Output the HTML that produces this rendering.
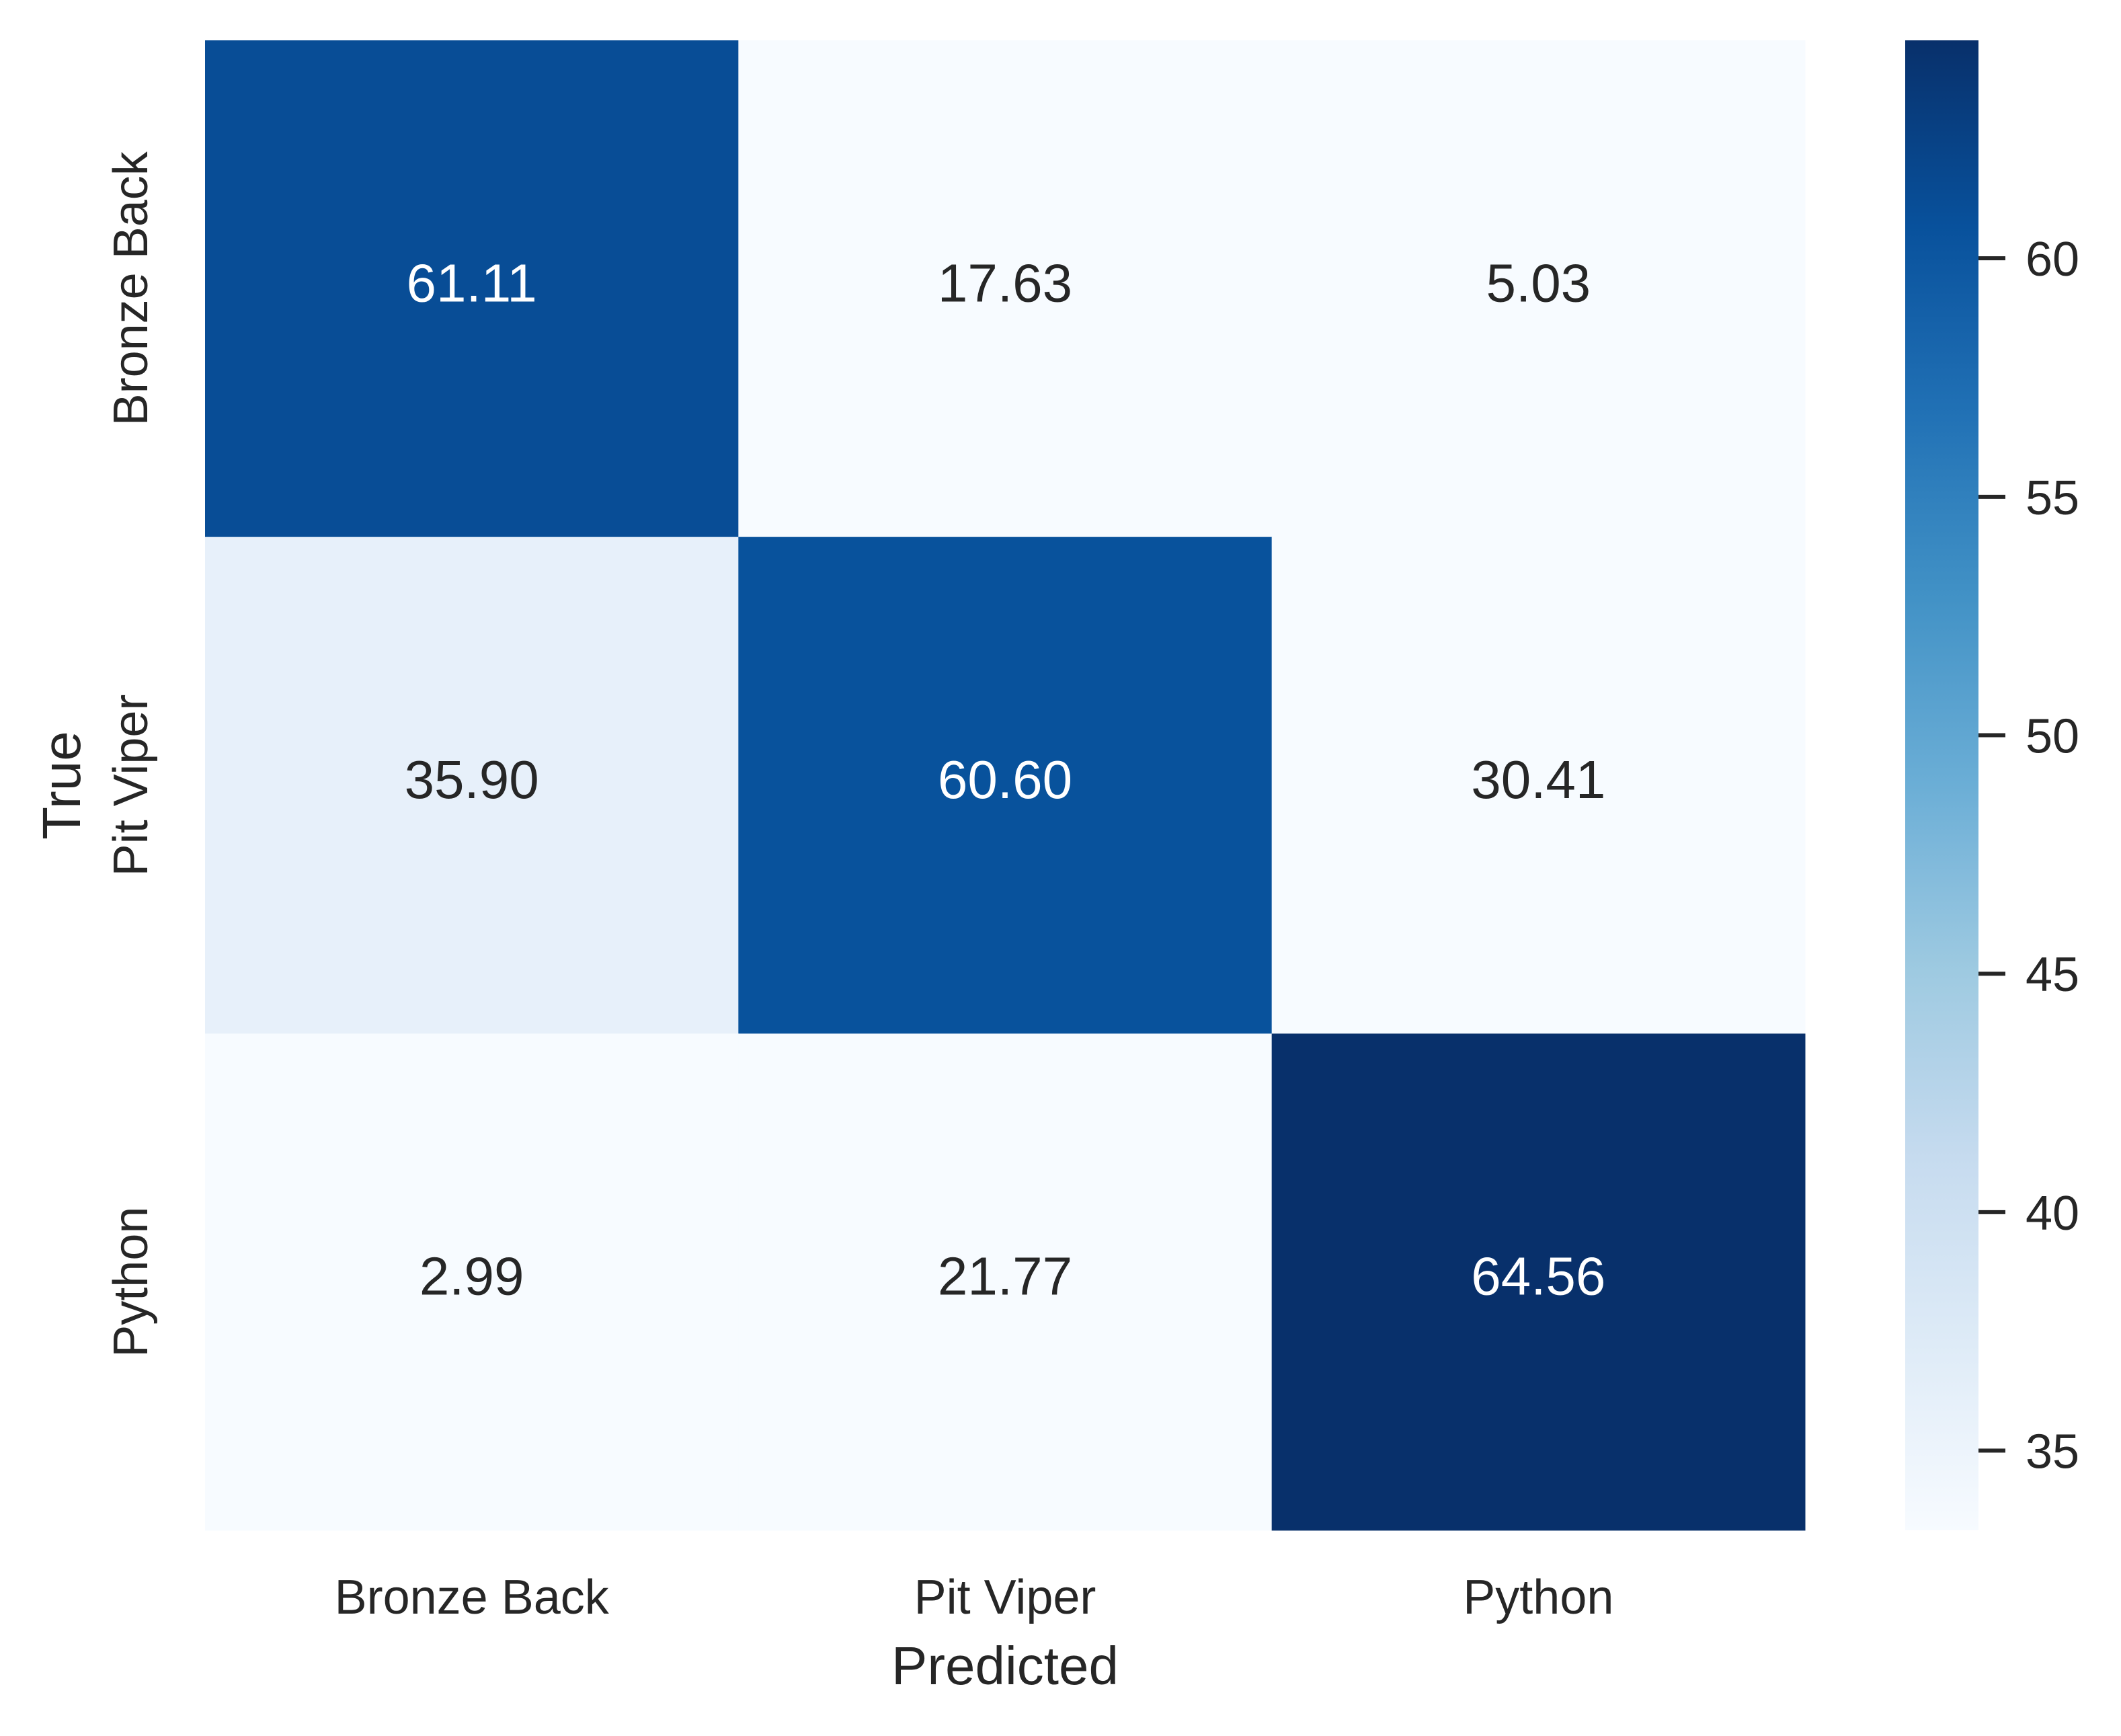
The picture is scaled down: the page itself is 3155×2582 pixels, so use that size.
<!DOCTYPE html>
<html><head><meta charset="utf-8"><style>
html,body{margin:0;padding:0;background:#fff;}
svg{display:block;font-family:"Liberation Sans",Arial,sans-serif;}
</style></head><body>
<svg id="chart" width="3155" height="2582" viewBox="0 0 3155 2582" xmlns="http://www.w3.org/2000/svg">
<defs><linearGradient id="cbgrad" x1="0" y1="1" x2="0" y2="0"></linearGradient></defs>
<g id="cells"></g>
<g id="xt"></g>
<g id="yt"></g>
<text x="1495" y="2505" font-size="80" text-anchor="middle" fill="#262626">Predicted</text>
<text transform="translate(119,1168) rotate(-90)" font-size="80" text-anchor="middle" fill="#262626">True</text>
<rect x="2834" y="60" width="109" height="2216" fill="url(#cbgrad)"/>
<g id="cbt"></g>
</svg>
<script>
const categories = ["Bronze Back","Pit Viper","Python"];
const rowBronzeBack = [61.11,17.63,5.03];
const rowPitViper = [35.90,60.60,30.41];
const rowPython = [2.99,21.77,64.56];
const cbTicks = [35,40,45,50,55,60];
const vmin = 33.33, vmax = 64.57;

const matrix = [rowBronzeBack,rowPitViper,rowPython];
const L=305,R=2685,T=60,B=2276;
const cw=(R-L)/categories.length, ch=(B-T)/categories.length;
const blues=[[247,251,255],[222,235,247],[198,219,239],[158,202,225],[107,174,214],[66,146,198],[33,113,181],[8,81,156],[8,48,107]];
function cmap(v){let t=(v-vmin)/(vmax-vmin);t=Math.max(0,Math.min(1,t));const p=t*8,i=Math.min(7,Math.floor(p)),f=p-i;
 const c=blues[i].map((a,k)=>Math.round(a+(blues[i+1][k]-a)*f));return {s:`rgb(${c})`,t};}
function xPos(j){return L+cw*j;}
function yPos(i){return T+ch*i;}
function cbY(v){return B-(v-vmin)/(vmax-vmin)*(B-T);}
const NS="http://www.w3.org/2000/svg";
function mk(tag,attrs,parent){const e=document.createElementNS(NS,tag);for(const k in attrs)e.setAttribute(k,attrs[k]);parent.appendChild(e);return e;}
const gc=document.getElementById('cells');
matrix.forEach((row,i)=>row.forEach((v,j)=>{
 const c=cmap(v);
 const r=mk('rect',{x:xPos(j),y:yPos(i),width:cw+0.5,height:ch+0.5,fill:c.s},gc);
 
 
 const t=mk('text',{x:xPos(j)+cw/2,y:yPos(i)+ch/2+19,'font-size':80,'text-anchor':'middle',fill:c.t>0.5?'#ffffff':'#262626'},gc);
 
 
 t.textContent=v.toFixed(2);
}));
const gx=document.getElementById('xt'),gy=document.getElementById('yt');
categories.forEach((c,k)=>{
 const t=mk('text',{x:xPos(k)+cw/2,y:2400,'font-size':72,'text-anchor':'middle',fill:'#262626'},gx);
 
 
 t.textContent=c;
 const u=mk('text',{transform:`translate(219,${yPos(k)+ch/2}) rotate(-90)`,'font-size':72,'text-anchor':'middle',fill:'#262626'},gy);
 
 
 u.textContent=c;
});
const grad=document.getElementById('cbgrad');
for(let s=0;s<=16;s++){const v=vmin+(vmax-vmin)*s/16;mk('stop',{offset:s/16,'stop-color':cmap(v).s},grad);}
const gt=document.getElementById('cbt');
cbTicks.forEach(v=>{
 const y=cbY(v);
 const l=mk('line',{x1:2943,x2:2983,y1:y,y2:y,stroke:'#262626','stroke-width':6},gt);
 
 
 const t=mk('text',{x:3013,y:y+26,'font-size':72,fill:'#262626'},gt);
 
 
 t.textContent=v;
});
</script>
</body></html>
